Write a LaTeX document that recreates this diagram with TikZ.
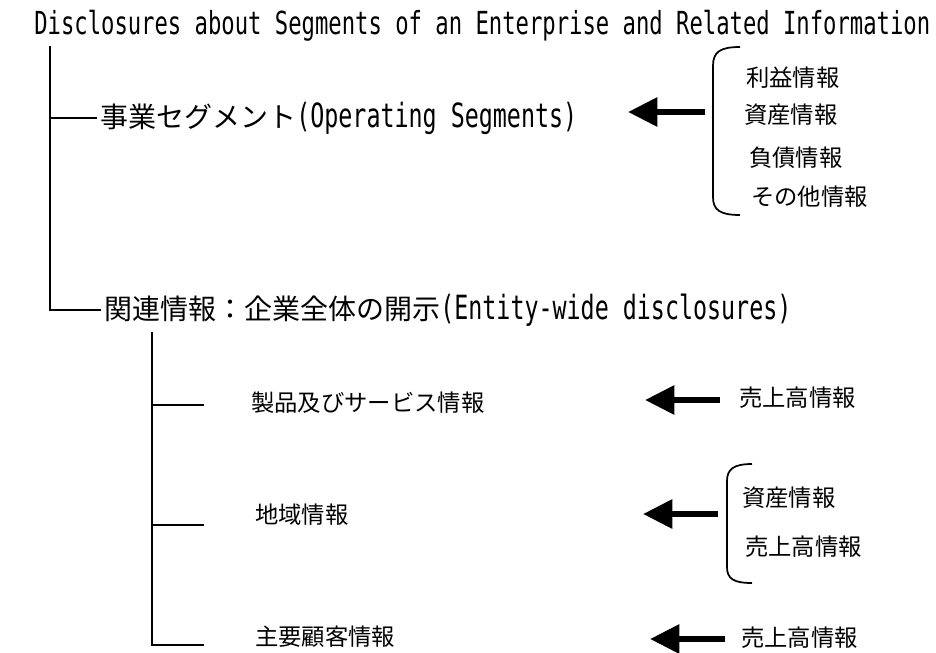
\documentclass[tikz,border=0pt]{standalone}
\usepackage{fontspec}
\setmainfont{Noto Sans CJK JP}
\newfontfamily\mono[FakeStretch=0.70]{DejaVu Sans Mono}
\usetikzlibrary{arrows.meta}
\tikzset{
  mainlbl/.style={font=\fontsize{21pt}{25pt}\selectfont, inner sep=0pt, anchor=west},
  itemlbl/.style={font=\fontsize{17.5pt}{21pt}\selectfont, inner sep=0pt, anchor=west},
  tree/.style={line width=1pt},
  brace/.style={line width=1.3pt},
  bigarrow/.style={line width=4.5pt, -{Triangle[length=22pt,width=21pt]}}
}
\newcommand{\latinpart}[1]{{\mono\fontsize{25pt}{25pt}\selectfont #1}}
\begin{document}
\begin{tikzpicture}[x=0.75pt,y=-0.75pt]
\useasboundingbox (0,0) rectangle (936,653);
% title
\node[inner sep=0pt, anchor=west, font=\mono\fontsize{23.8pt}{26pt}\selectfont] (title) at (34,26) {Disclosures about Segments of an Enterprise and Related Information};
% main labels
\node[mainlbl] (seg) at (100,118) {事業セグメント\latinpart{(Operating Segments)}};
\node[mainlbl] (rel) at (104,310) {関連情報：企業全体の開示\latinpart{(Entity-wide disclosures)}};
% sub labels
\node[itemlbl] (prod) at (251,403) {製品及びサービス情報};
\node[itemlbl] (region) at (255,515) {地域情報};
\node[itemlbl] (cust) at (255,637) {主要顧客情報};
% main tree
\coordinate (m0) at (50,46);
\coordinate (m1) at (50,118);
\coordinate (m2) at (50,310);
\draw[tree] (m0) -- (m2) -- ([xshift=-2]rel.west);
\draw[tree] (m1) -- ([xshift=-2]seg.west);
% sub tree
\coordinate (s0) at (152,332);
\coordinate (s1) at (152,405);
\coordinate (s2) at (152,525);
\coordinate (s3) at (152,645);
\coordinate (e1) at (204,405);
\coordinate (e2) at (204,525);
\coordinate (e3) at (204,645);
\draw[tree] (s0) -- (s3) -- (e3);
\draw[tree] (s1) -- (e1);
\draw[tree] (s2) -- (e2);
% bracket 1 and items
\draw[brace] (740,47) .. controls (720,47) and (713,52) .. (713,66) -- (713,197) .. controls (713,210) and (720,215) .. (740,215);
\node[itemlbl] (i1) at (746,78) {利益情報};
\node[itemlbl] (i2) at (744,115) {資産情報};
\node[itemlbl] (i3) at (749,158) {負債情報};
\node[itemlbl] (i4) at (751,197) {その他情報};
\coordinate (a1s) at (705,112);
\coordinate (a1e) at (628,112);
\draw[bigarrow] (a1s) -- (a1e);
% product arrow
\node[itemlbl] (p1) at (739,398) {売上高情報};
\coordinate (a2s) at (720,400);
\coordinate (a2e) at (645,400);
\draw[bigarrow] (a2s) -- (a2e);
% bracket 2 and items
\draw[brace] (752,464) .. controls (734,464) and (727,469) .. (727,481) -- (727,567) .. controls (727,579) and (734,583) .. (752,583);
\node[itemlbl] (r1) at (742,498) {資産情報};
\node[itemlbl] (r2) at (745,547) {売上高情報};
\coordinate (a3s) at (718,514);
\coordinate (a3e) at (643,514);
\draw[bigarrow] (a3s) -- (a3e);
% customer arrow
\node[itemlbl] (c1) at (741,638) {売上高情報};
\coordinate (a4s) at (725,639);
\coordinate (a4e) at (650,639);
\draw[bigarrow] (a4s) -- (a4e);
\end{tikzpicture}
\end{document}
